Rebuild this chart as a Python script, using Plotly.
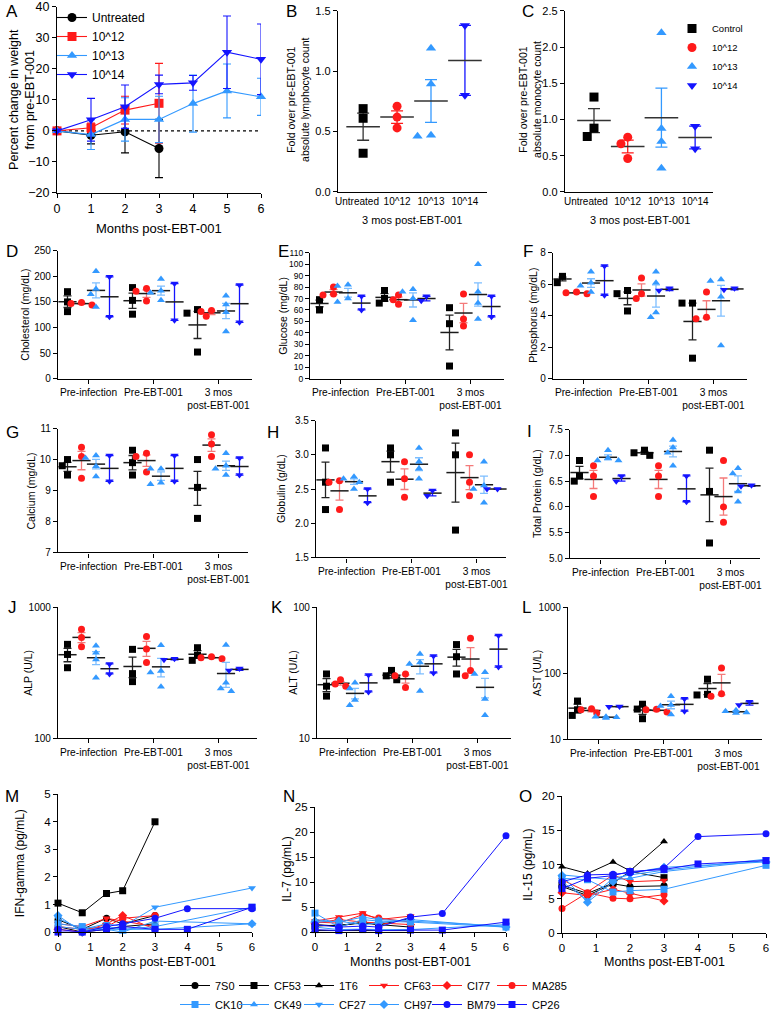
import numpy as np
import plotly.graph_objects as go

W, H = 772, 1019
FONT = "Liberation Sans, Arial, Helvetica, sans-serif"

BLACK = "#000000"
RED = "#FF1A1A"
LBLUE = "#3399FF"
BLUE = "#1414FF"
RED_LIGHT = "#F47A7A"
LBLUE_LIGHT = "#7DBEFF"

# ---------------- Panel A : weight ----------------
A_MONTHS = [0, 1, 2, 3, 4, 5, 6]
A_UNTREATED = [0.0, -1.4, -0.3, -5.7]
A_UNTREATED_SEM = [0.0, 2.8, 6.8, 9.4]
A_E12 = [0.0, 1.0, 6.7, 8.9]
A_E12_SEM = [0.0, 1.5, 4.5, 12.9]
A_E13 = [0.0, -1.2, 3.7, 3.7, 8.8, 12.9, 11.0]
A_E13_SEM = [0.0, 4.8, 7.0, 7.5, 9.2, 8.7, 6.0]
A_E14 = [0.0, 3.6, 7.8, 15.0, 15.5, 25.4, 23.1]
A_E14_SEM = [0.0, 6.9, 7.0, 3.0, 2.4, 11.7, 11.4]
A_NAMES = ["Untreated", "10^12", "10^13", "10^14"]

# ---------------- Panels B, C ----------------
BC_CATEGORIES = ["Untreated", "10^12", "10^13", "10^14"]
C_LEGEND_NAMES = ["Control", "10^12", "10^13", "10^14"]
B_CTRL = [0.69, 0.61, 0.32]
B_E12 = [0.71, 0.62, 0.53]
B_E13 = [1.19, 0.895, 0.46, 0.47]
B_E14 = [1.38, 0.80]
C_CTRL = [1.31, 0.88, 0.765]
C_E12 = [0.756, 0.664, 0.46]
C_E13 = [2.20, 0.876, 0.696, 0.327]
C_E14 = [0.908, 0.594]

# ---------------- Panels D-L (Pre-infection, Pre-EBT-001, 3 mos) ----------------
TIMEPOINTS = ["Pre-infection", "Pre-EBT-001", "3 mos<br>post-EBT-001"]

CHOL_CTRL = [[170, 150, 131], [178, 153, 126], [135, 128, 52]]
CHOL_E12 = [[149, 147, 144], [176, 171, 152], [133, 131, 122]]
CHOL_E13 = [[210, 175, 165, 140], [195, 172, 168, 153], [162, 145, 130, 92]]
CHOL_E14 = [[199, 121], [186, 114], [183, 110]]

GLU_CTRL = [[69, 68, 60], [77, 70, 66], [62, 48, 11]]
GLU_E12 = [[80, 74, 73], [73, 69, 65], [74, 52, 46]]
GLU_E13 = [[82, 81, 70, 67], [78, 76, 70, 51], [100, 76, 66, 52]]
GLU_E14 = [[72, 60], [72, 68], [72, 54]]

PHOS_CTRL = [[6.5, 6.4, 6.1], [5.6, 5.4, 4.3], [4.8, 4.8, 1.3]]
PHOS_E12 = [[5.5, 5.45, 5.4], [6.4, 5.4, 5.1], [5.5, 3.9, 3.8]]
PHOS_E13 = [[6.8, 6.1, 5.9, 5.5], [6.8, 6.1, 4.2, 3.9], [6.3, 6.2, 5.2, 2.1]]
PHOS_E14 = [[7.15, 5.3], [5.75, 5.6], [5.75, 5.65]]

CA_CTRL = [[10.0, 9.8, 9.5], [10.3, 9.9, 9.5], [10.0, 9.1, 8.1]]
CA_E12 = [[10.4, 10.1, 9.4], [10.2, 10.1, 9.6], [10.8, 10.5, 10.1]]
CA_E13 = [[10.13, 10.05, 9.78, 9.45], [9.7, 9.7, 9.25, 9.2], [10.2, 9.8, 9.7, 9.5]]
CA_E14 = [[10.13, 9.3], [10.13, 9.3], [10.05, 9.5]]

GLOB_CTRL = [[3.1, 2.6, 2.2], [3.1, 3.0, 2.6], [3.32, 3.0, 1.9]]
GLOB_E12 = [[2.62, 2.6, 2.2], [2.9, 2.65, 2.38], [3.0, 2.6, 2.4]]
GLOB_E13 = [[2.68, 2.65, 2.6, 2.5], [3.1, 2.9, 2.8, 2.65], [2.9, 2.55, 2.5, 2.3]]
GLOB_E14 = [[2.5, 2.3], [2.48, 2.4], [2.5, 2.5]]

TP_CTRL = [[6.9, 6.6, 6.5], [7.0, 7.05, 7.1], [7.1, 6.3, 5.3]]
TP_E12 = [[6.8, 6.6, 6.2], [6.8, 6.6, 6.2], [6.9, 6.0, 5.7]]
TP_E13 = [[7.1, 6.95, 6.9, 6.9], [7.3, 7.15, 7.05, 6.8], [6.75, 6.65, 6.3, 6.1]]
TP_E14 = [[6.6, 6.5], [6.6, 6.1], [6.42, 6.4]]

ALP_CTRL = [[522, 437, 346], [478, 312, 271], [492, 430, 394]]
ALP_E12 = [[680, 590, 500], [600, 480, 380], [420, 413, 405]]
ALP_E13 = [[510, 450, 400, 290], [513, 327, 318, 248], [515, 266, 240, 229]]
ALP_E14 = [[370, 310], [398, 405], [330, 342]]

ALT_CTRL = [[31, 25, 21], [33, 30, 28], [52, 42, 31]]
ALT_E12 = [[28, 26, 25], [31, 30, 24.4], [58, 33, 30]]
ALT_E13 = [[26.6, 24, 19.6, 17.9], [44, 38, 37, 23], [32, 31, 20, 15]]
ALT_E14 = [[30.4, 22.6], [42.5, 31.6], [61, 35]]

AST_CTRL = [[38, 28, 23], [34, 28.7, 20.5], [81.5, 48, 47]]
AST_E12 = [[29, 28, 25], [28.5, 28, 26], [121, 45, 49]]
AST_E13 = [[22, 21.5, 22, 21], [45, 33, 32, 23.7], [27.5, 26.5, 25.5, 25]]
AST_E14 = [[31.5, 31], [41, 26.7], [37, 33]]

# ---------------- Panels M-O (cytokines per animal) ----------------
T_UNTREATED = [0, 0.75, 1.5, 2, 3]
T_LOW = [0, 0.75, 1.5, 2, 3]
T_MID = [0, 0.75, 1.5, 2, 3, 6]
T_HIGH = [0, 0.75, 1.5, 2, 3, 4, 6]

ANIMALS = ["7S0", "CF53", "1T6", "CF63", "CI77", "MA285",
           "CK10", "CK49", "CF27", "CH97", "BM79", "CP26"]

IFN = {
    "7S0": [0.45, 0.1, 0.5, 0.3, 0.6],
    "CF53": [1.05, 0.7, 1.4, 1.5, 4.0],
    "1T6": [0.2, 0.0, 0.1, 0.2, 0.3],
    "CF63": [0.3, 0.2, 0.5, 0.4, 0.2],
    "CI77": [0.1, 0.0, 0.3, 0.6, 0.1],
    "MA285": [0.2, 0.1, 0.2, 0.5, 0.6],
    "CK10": [0.3, 0.2, 0.1, 0.1, 0.2, 0.9],
    "CK49": [0.2, 0.1, 0.1, 0.0, 0.4, 0.3],
    "CF27": [0.5, 0.1, 0.3, 0.2, 0.9, 1.6],
    "CH97": [0.6, 0.0, 0.2, 0.1, 0.1, 0.3],
    "BM79": [0.1, 0.0, 0.2, 0.3, 0.5, 0.85, 0.85],
    "CP26": [0.0, 0.0, 0.1, 0.2, 0.1, 0.1, 0.9],
}
IL7 = {
    "7S0": [1.5, 1.2, 2.0, 1.5, 1.0],
    "CF53": [1.2, 1.4, 1.8, 1.5, 2.7],
    "1T6": [0.3, 0.3, 0.3, 0.3, 0.3],
    "CF63": [2.2, 3.0, 3.8, 2.5, 3.2],
    "CI77": [1.8, 2.5, 2.0, 1.8, 1.5],
    "MA285": [2.0, 1.8, 3.5, 2.8, 2.0],
    "CK10": [3.8, 1.0, 2.5, 2.2, 2.0, 1.0],
    "CK49": [2.5, 2.0, 3.0, 2.5, 2.2, 1.2],
    "CF27": [1.0, 0.5, 0.6, 0.5, 0.5, 1.5],
    "CH97": [2.0, 2.2, 1.5, 1.8, 2.5, 1.0],
    "BM79": [1.5, 1.0, 1.2, 1.0, 3.0, 3.7, 19.3],
    "CP26": [0.5, 0.3, 0.5, 0.3, 0.4, 0.4, 2.0],
}
IL15 = {
    "7S0": [6.8, 5.5, 7.2, 6.8, 6.9],
    "CF53": [7.0, 5.8, 7.3, 9.0, 8.1],
    "1T6": [9.7, 8.7, 10.4, 9.1, 13.4],
    "CF63": [7.8, 6.0, 8.5, 7.5, 7.7],
    "CI77": [5.9, 5.5, 6.4, 5.8, 4.7],
    "MA285": [3.6, 5.9, 5.1, 5.0, 5.6],
    "CK10": [8.0, 7.8, 6.0, 6.2, 6.4, 9.9],
    "CK49": [8.5, 8.2, 7.8, 8.0, 9.0, 10.6],
    "CF27": [7.5, 4.8, 8.0, 8.5, 9.2, 10.8],
    "CH97": [8.4, 4.5, 7.5, 8.8, 9.6, 10.4],
    "BM79": [7.5, 8.5, 8.6, 8.8, 9.5, 14.1, 14.5],
    "CP26": [6.5, 8.0, 8.4, 9.0, 9.3, 10.1, 10.6],
}

# ================= styling / layout helpers =================
GROUP_COLORS = [BLACK, RED, LBLUE, BLUE]
GROUP_ERR_COLORS = ["#222222", RED_LIGHT, LBLUE_LIGHT, BLUE]
GROUP_SYMBOLS_A = ["circle", "square", "triangle-up", "triangle-down"]
GROUP_SYMBOLS_DOT = ["square", "circle", "triangle-up", "triangle-down"]

ANIMAL_STYLE = {
    "7S0": (BLACK, "circle", T_UNTREATED), "CF53": (BLACK, "square", T_UNTREATED),
    "1T6": (BLACK, "triangle-up", T_UNTREATED), "CF63": (RED, "triangle-down", T_LOW),
    "CI77": (RED, "diamond", T_LOW), "MA285": (RED, "circle", T_LOW),
    "CK10": (LBLUE, "square", T_MID), "CK49": (LBLUE, "triangle-up", T_MID),
    "CF27": (LBLUE, "triangle-down", T_MID), "CH97": (LBLUE, "diamond", T_MID),
    "BM79": (BLUE, "circle", T_HIGH), "CP26": (BLUE, "square", T_HIGH),
}
LEGEND_COLS = ["legend", "legend2", "legend3", "legend4", "legend5", "legend6"]
LEGEND_COL_MARKER_X = [197, 256, 321, 386, 449, 514]

fig = go.Figure()
layout = dict(
    width=W, height=H, margin=dict(l=0, r=0, t=0, b=0),
    paper_bgcolor="white", plot_bgcolor="white",
    font=dict(family=FONT, color="black", size=11),
    showlegend=True, annotations=[], shapes=[],
)
AX = {}


def add_axes(n, xpx, ypx, xr, yr, ytype="linear", xtick=None, ytick=None,
             xfont=11, yfont=11):
    common = dict(showline=True, linecolor="black", linewidth=1.3, ticks="outside",
                  ticklen=4, tickwidth=1.2, tickcolor="black", showgrid=False,
                  zeroline=False, mirror=False, fixedrange=True, tickangle=0,
                  automargin=False, ticklabeloverflow="allow")
    xa = dict(common, domain=[xpx[0] / W, xpx[1] / W], range=xr,
              anchor="y" if n == 1 else f"y{n}", tickfont=dict(size=xfont))
    ya = dict(common, domain=[1 - ypx[1] / H, 1 - ypx[0] / H],
              anchor="x" if n == 1 else f"x{n}", type=ytype,
              tickfont=dict(size=yfont))
    if ytype == "log":
        ya["range"] = [np.log10(yr[0]), np.log10(yr[1])]
    else:
        ya["range"] = yr
    if xtick:
        xa.update(xtick)
    if ytick:
        ya.update(ytick)
    suffix = "" if n == 1 else str(n)
    layout["xaxis" + suffix] = xa
    layout["yaxis" + suffix] = ya
    AX[n] = dict(x="x" if n == 1 else f"x{n}", y="y" if n == 1 else f"y{n}",
                 xpx=xpx, ypx=ypx, xr=xr, yr=yr, ytype=ytype)
    return AX[n]


def note(text, x, y, size, angle=0, **kw):
    layout["annotations"].append(dict(
        text=text, x=x / W, y=1 - y / H, xref="paper", yref="paper",
        showarrow=False, textangle=angle, font=dict(size=size, family=FONT, color="black"),
        xanchor=kw.get("xanchor", "center"), yanchor=kw.get("yanchor", "middle")))


def ppu(ax):
    h = ax["ypx"][1] - ax["ypx"][0]
    lo, hi = ax["yr"]
    if ax["ytype"] == "log":
        return h / (np.log10(hi) - np.log10(lo)), np.log10
    return h / (hi - lo), (lambda v: v)


def swarm(vals, ax, size_px, step_px, pitch_px):
    scale, f = ppu(ax)
    ys = [f(v) * scale for v in vals]
    order = sorted(range(len(vals)), key=lambda i: -ys[i])
    placed, offs = [], [0.0] * len(vals)
    for i in order:
        chosen = 0.0
        for k in [0, -1, 1, -2, 2, -3, 3]:
            xo = k * step_px
            if all((xo - px) ** 2 + (ys[i] - py) ** 2 >= size_px ** 2 for px, py in placed):
                chosen = xo
                break
        placed.append((chosen, ys[i]))
        offs[i] = chosen / pitch_px
    return offs


def mean_sem(vals):
    v = np.asarray(vals, float)
    return float(v.mean()), float(v.std(ddof=1) / np.sqrt(len(v)))


def add_group(ax, xc, vals, gi, size, pitch_px, mean_w, cap_w, err_col=None,
              mean_col="#1a1a1a", symbols=GROUP_SYMBOLS_DOT, legend=None, name=None):
    offs = swarm(vals, ax, size * 0.95, size * 0.75, pitch_px)
    m, s = mean_sem(vals)
    ec = err_col if err_col else GROUP_ERR_COLORS[gi]
    fig.add_trace(go.Scatter(
        x=[xc], y=[m], xaxis=ax["x"], yaxis=ax["y"], mode="markers",
        marker=dict(symbol="line-ew", size=mean_w, line=dict(width=1.5, color=mean_col)),
        error_y=dict(type="data", array=[s], color=ec, thickness=1.3, width=cap_w),
        showlegend=False, hoverinfo="skip", cliponaxis=False))
    tr = dict(
        x=[xc + o for o in offs], y=vals, xaxis=ax["x"], yaxis=ax["y"], mode="markers",
        marker=dict(symbol=symbols[gi], size=size, color=GROUP_COLORS[gi], line=dict(width=0)),
        showlegend=False, cliponaxis=False)
    if legend:
        tr.update(showlegend=True, legend=legend, name=name)
    fig.add_trace(go.Scatter(**tr))


# ================= Panel A =================
axA = add_axes(1, (57, 261), (7, 193), [0, 6], [-20, 40],
               xtick=dict(tickvals=A_MONTHS), ytick=dict(tickvals=list(range(-20, 41, 10))),
               xfont=12.5, yfont=12.5)
layout["shapes"].append(dict(type="line", xref="x domain", yref="y", x0=0, x1=1, y0=0, y1=0,
                             line=dict(color="black", width=1.2, dash="dot"), layer="below"))
for gi, (vals, sem) in enumerate([(A_UNTREATED, A_UNTREATED_SEM), (A_E12, A_E12_SEM),
                                  (A_E13, A_E13_SEM), (A_E14, A_E14_SEM)]):
    fig.add_trace(go.Scatter(
        x=A_MONTHS[:len(vals)], y=vals, xaxis="x", yaxis="y", mode="lines+markers",
        name=A_NAMES[gi], legend="legend7",
        line=dict(color=GROUP_COLORS[gi], width=1.1),
        marker=dict(symbol=GROUP_SYMBOLS_A[gi], size=9, color=GROUP_COLORS[gi]),
        error_y=dict(type="data", array=sem, color=GROUP_COLORS[gi], thickness=1.1, width=4),
        cliponaxis=False))
note("Percent change in weight<br>from pre-EBT-001", 22, 100, 12.5, -90)
note("Months post-EBT-001", 159, 229, 13)

# ================= Panels B, C =================
# category labels: the first ("Untreated") label sits slightly left of its column
BC_LABEL_POS = [-0.18, 1, 2, 3]
axB = add_axes(2, (338, 487), (11, 192), [-0.74, 3.65], [0, 1.5],
               xtick=dict(tickvals=BC_LABEL_POS, ticktext=BC_CATEGORIES, ticks=""),
               ytick=dict(tickvals=[0, 0.5, 1.0, 1.5], tickformat=".1f"), xfont=10, yfont=11)
for gi, vals in enumerate([B_CTRL, B_E12, B_E13, B_E14]):
    add_group(axB, gi, vals, gi, 9, 34, 24, 6,
              err_col=["#333333", RED, LBLUE, BLUE][gi], mean_col="#333333")
note("Fold over pre-EBT-001<br>absolute lymphocyte count", 298, 100, 10.5, -90)
note("3 mos post-EBT-001", 412, 220, 11)

axC = add_axes(3, (565, 713), (11, 192), [-0.86, 3.53], [0, 2.5],
               xtick=dict(tickvals=[-0.24, 1, 2, 3], ticktext=BC_CATEGORIES, ticks=""),
               ytick=dict(tickvals=[0, 0.5, 1.0, 1.5, 2.0, 2.5], tickformat=".1f"),
               xfont=10, yfont=11)
for gi, vals in enumerate([C_CTRL, C_E12, C_E13, C_E14]):
    add_group(axC, gi, vals, gi, 9, 33.7, 24, 6,
              err_col=["#333333", RED, LBLUE, BLUE][gi], mean_col="#333333",
              legend="legend8", name=C_LEGEND_NAMES[gi])
note("Fold over pre-EBT-001<br>absolute monocyte count", 530, 100, 10.5, -90)
note("3 mos post-EBT-001", 640, 220, 11)

# ================= Panels D-L =================
SUB_PX = [-21, -7, 7.5, 21]
PITCH = 65.0
FIRST = 30.5


def dot_panel(n, xpx, ypx, yr, yticks, ytext, ylabel, ylabel_x, datasets,
              ytype="linear", yfont=10):
    width = xpx[1] - xpx[0]
    xr = [-FIRST / PITCH, (width - FIRST) / PITCH]
    yt = dict(tickvals=yticks)
    if ytext is not None:
        yt["ticktext"] = ytext
    ax = add_axes(n, xpx, ypx, xr, yr, ytype=ytype,
                  xtick=dict(tickvals=[0, 1, 2], ticktext=TIMEPOINTS), ytick=yt,
                  xfont=10.2, yfont=yfont)
    for gi, grp in enumerate(datasets):
        for ti, vals in enumerate(grp):
            add_group(ax, ti + SUB_PX[gi] / PITCH, vals, gi, 7, PITCH, 13, 4)
    note(ylabel, ylabel_x, (ypx[0] + ypx[1]) / 2, 10.5, -90)
    return ax


dot_panel(4, (58, 252), (251, 379), [0, 250], list(range(0, 251, 50)), None,
          "Cholesterol (mg/dL)", 25, [CHOL_CTRL, CHOL_E12, CHOL_E13, CHOL_E14])
dot_panel(5, (310, 504), (253, 379), [0, 110], list(range(0, 111, 10)), None,
          "Glucose (mg/dL)", 283, [GLU_CTRL, GLU_E12, GLU_E13, GLU_E14], yfont=8.5)
dot_panel(6, (553, 747), (253, 379), [0, 8], [0, 2, 4, 6, 8], None,
          "Phosphorus (mg/dL)", 533, [PHOS_CTRL, PHOS_E12, PHOS_E13, PHOS_E14])
dot_panel(7, (58, 248), (429, 553), [7, 11], [7, 8, 9, 10, 11], None,
          "Calcium (mg/dL)", 31, [CA_CTRL, CA_E12, CA_E13, CA_E14])
dot_panel(8, (316, 506), (421, 558), [1.5, 3.5], [1.5, 2.0, 2.5, 3.0, 3.5],
          ["1.5", "2.0", "2.5", "3.0", "3.5"],
          "Globulin (g/dL)", 281, [GLOB_CTRL, GLOB_E12, GLOB_E13, GLOB_E14])
dot_panel(9, (570, 760), (430, 559), [5.0, 7.5], [5.0, 5.5, 6.0, 6.5, 7.0, 7.5],
          ["5.0", "5.5", "6.0", "6.5", "7.0", "7.5"],
          "Total Protein (g/dL)", 537, [TP_CTRL, TP_E12, TP_E13, TP_E14])
dot_panel(10, (58, 257), (608, 739), [100, 1000], [100, 1000], ["100", "1000"],
          "ALP (U/L)", 28, [ALP_CTRL, ALP_E12, ALP_E13, ALP_E14], ytype="log")
dot_panel(11, (317, 511), (608, 739), [10, 100], [10, 100], ["10", "100"],
          "ALT (U/L)", 293, [ALT_CTRL, ALT_E12, ALT_E13, ALT_E14], ytype="log")
dot_panel(12, (568, 762), (608, 740), [10, 1000], [10, 100, 1000], ["10", "100", "1000"],
          "AST (U/L)", 537, [AST_CTRL, AST_E12, AST_E13, AST_E14], ytype="log")


# ================= Panels M-O =================
def cyto_panel(n, xpx, ypx, yr, yticks, data, ylabel, ylabel_x, show_legend):
    ax = add_axes(n, xpx, ypx, [0, 6], yr, xtick=dict(tickvals=list(range(7))),
                  ytick=dict(tickvals=yticks), xfont=11.5, yfont=11.5)
    for i, a in enumerate(ANIMALS):
        col, sym, times = ANIMAL_STYLE[a]
        fig.add_trace(go.Scatter(
            x=times, y=data[a], xaxis=ax["x"], yaxis=ax["y"], mode="lines+markers",
            name=a, legend=LEGEND_COLS[i % 6], showlegend=show_legend,
            line=dict(color=col, width=1), marker=dict(symbol=sym, size=7, color=col),
            cliponaxis=False))
    note(ylabel, ylabel_x, (ypx[0] + ypx[1]) / 2, 12, -90)
    note("Months post-EBT-001", (xpx[0] + xpx[1]) / 2, 963, 12.5)
    return ax


cyto_panel(13, (58, 252), (795, 933), [0, 5], [0, 1, 2, 3, 4, 5], IFN,
           "IFN-gamma (pg/mL)", 20, True)
cyto_panel(14, (315, 506), (808, 933), [0, 25], [0, 5, 10, 15, 20, 25], IL7,
           "IL-7 (pg/mL)", 287, False)
cyto_panel(15, (562, 766), (797, 934), [0, 20], [0, 5, 10, 15, 20], IL15,
           "IL-15 (pg/mL)", 528, False)

# ================= panel letters =================
for letter, x, y in [("A", 12, 12), ("B", 291, 12), ("C", 528, 12),
                     ("D", 12, 252), ("E", 283, 252), ("F", 528, 252),
                     ("G", 12, 433), ("H", 273, 433), ("I", 529, 432),
                     ("J", 12, 608), ("K", 277, 608), ("L", 526, 608),
                     ("M", 12, 797), ("N", 289, 797), ("O", 525, 797)]:
    note(letter, x, y, 17)

# ================= legends =================
leg_common = dict(bgcolor="rgba(0,0,0,0)", borderwidth=0, font=dict(size=11, family=FONT),
                  itemwidth=30, tracegroupgap=0, orientation="v",
                  xanchor="left", yanchor="top")
for key, mx in zip(LEGEND_COLS, LEGEND_COL_MARKER_X):
    layout[key] = dict(leg_common, x=(mx - 22) / W, y=1 - 972 / H)
layout["legend7"] = dict(leg_common, x=52 / W, y=1 - 3 / H, font=dict(size=12, family=FONT))
layout["legend8"] = dict(leg_common, x=672 / W, y=1 - 14 / H, font=dict(size=9.5, family=FONT))

fig.update_layout(**layout)
fig.write_html("out.html", post_script="document.body.style.margin='0px';",
               config={"displayModeBar": False})
